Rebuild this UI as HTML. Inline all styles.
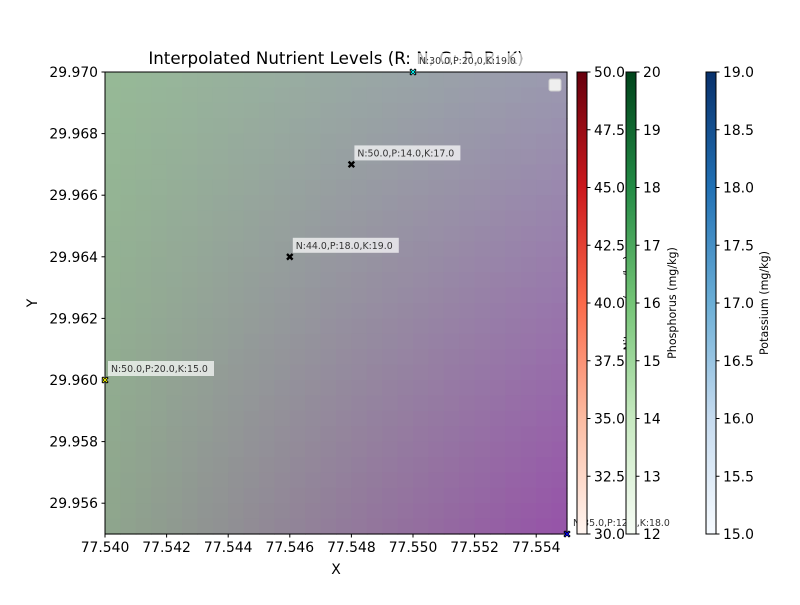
<!DOCTYPE html>
<html><head><meta charset="utf-8"><style>
body{margin:0;background:#fff}
svg text{font-family:"DejaVu Sans","Liberation Sans",sans-serif}
</style></head><body>
<svg id="chart" width="800" height="600" viewBox="0 0 800 600" xmlns="http://www.w3.org/2000/svg">
<defs>
<linearGradient id="gReds" x1="0" y1="1" x2="0" y2="0"><stop offset="0" stop-color="#fff5f0"/><stop offset="0.25" stop-color="#fcbba1"/><stop offset="0.5" stop-color="#fb6a4a"/><stop offset="0.75" stop-color="#cb181d"/><stop offset="1" stop-color="#67000d"/></linearGradient>
<linearGradient id="gGreens" x1="0" y1="1" x2="0" y2="0"><stop offset="0" stop-color="#f7fcf5"/><stop offset="0.25" stop-color="#c7e9c0"/><stop offset="0.5" stop-color="#74c476"/><stop offset="0.75" stop-color="#238b45"/><stop offset="1" stop-color="#00441b"/></linearGradient>
<linearGradient id="gBlues" x1="0" y1="1" x2="0" y2="0"><stop offset="0" stop-color="#f7fbff"/><stop offset="0.25" stop-color="#c6dbef"/><stop offset="0.5" stop-color="#6baed6"/><stop offset="0.75" stop-color="#2171b5"/><stop offset="1" stop-color="#08306b"/></linearGradient>
</defs>
<g id="bg"></g>
<g id="axes"></g>
<text x="336" y="64" font-size="16.7" text-anchor="middle">Interpolated Nutrient Levels (R: N, G: P, B: K)</text>
<text x="336" y="574" font-size="13.9" text-anchor="middle">X</text>
<text x="37" y="303" font-size="13.9" text-anchor="middle" transform="rotate(-90 37 303)">Y</text>
<rect x="549" y="79" width="12" height="12" rx="2" fill="#eee" stroke="#ccc"/>
</svg>
<script>
const xs=[77.540,77.546,77.548,77.550,77.555];
const ys=[29.960,29.964,29.967,29.970,29.955];
const Nv=[50,44,50,30,35];
const Pv=[20,18,14,20,12];
const Kv=[15,19,17,19,18];
const markerColors=['#ffff00','#000000','#000000','#00ffff','#0000ff'];
const xTicks=[77.540,77.542,77.544,77.546,77.548,77.550,77.552,77.554];
const yTicks=[29.956,29.958,29.960,29.962,29.964,29.966,29.968,29.970];
const nTicks=[30,32.5,35,37.5,40,42.5,45,47.5,50];
const pTicks=[12,13,14,15,16,17,18,19,20];
const kTicks=[15,15.5,16,16.5,17,17.5,18,18.5,19];
const NS='http://www.w3.org/2000/svg';
const L=105,R=567,T=72,B=534;
const X=v=>L+(v-77.540)/0.015*(R-L);
const Y=v=>B-(v-29.955)/0.015*(B-T);
function mk(tag,at,par){const e=document.createElementNS(NS,tag);for(const k in at)e.setAttribute(k,at[k]);par.appendChild(e);return e;}
const svg=document.getElementById('chart');
const bg=document.getElementById('bg');
const TL=[150,186,150],TR=[155,153,176],BL=[142,166,140],BR=[150,82,168];
const n=30,cw=(R-L)/n,ch=(B-T)/n;
for(let i=0;i<n;i++)for(let j=0;j<n;j++){
 const u=(i+.5)/n,v=(j+.5)/n;const c=[0,1,2].map(k=>Math.round(TL[k]*(1-u)*(1-v)+TR[k]*u*(1-v)+BL[k]*(1-u)*v+BR[k]*u*v));
 mk('rect',{x:L+i*cw,y:T+j*ch,width:cw+0.6,height:ch+0.6,fill:`rgb(${c})`},bg);
}
const axes=document.getElementById('axes');
const frame=mk('rect',{x:L,y:T,width:R-L,height:B-T,fill:'none',stroke:'#000','stroke-width':1},axes);


xTicks.forEach(t=>{const x=X(t);mk('line',{x1:x,x2:x,y1:B,y2:B+3.5,stroke:'#000'},axes);
 const tx=mk('text',{x:x,y:B+18,'font-size':13.9,'text-anchor':'middle'},axes);tx.textContent=t.toFixed(3);
 
 });
yTicks.forEach(t=>{const y=Y(t);mk('line',{x1:L-3.5,x2:L,y1:y,y2:y,stroke:'#000'},axes);
 const tx=mk('text',{x:L-7,y:y+5,'font-size':13.9,'text-anchor':'end'},axes);tx.textContent=t.toFixed(3);
 
 });
xs.forEach((xv,i)=>{const px=X(xv),py=Y(ys[i]);
 const g=mk('g',{},svg);
 
 
 mk('path',{d:`M${px-2.8} ${py-2.8}L${px+2.8} ${py+2.8}M${px-2.8} ${py+2.8}L${px+2.8} ${py-2.8}`,stroke:'#000','stroke-width':2.4},g);
 mk('path',{d:`M${px-2} ${py-2}L${px+2} ${py+2}M${px-2} ${py+2}L${px+2} ${py-2}`,stroke:markerColors[i],'stroke-width':0.9},g);
 const lab=`N:${Nv[i].toFixed(1)},P:${Pv[i].toFixed(1)},K:${Kv[i].toFixed(1)}`;
 const a=mk('g',{},svg);
 
 
 mk('rect',{x:px+3,y:py-19,width:106,height:15,fill:'#fff','fill-opacity':0.7},a);
 const t=mk('text',{x:px+6,y:py-8,'font-size':9.4,fill:'#333'},a);t.textContent=lab;
});
function cbar(x0,grad,ticks,lo,hi,dec,label,lx,name){
 const g=mk('g',{},svg);
 
 
 if(label){const lt=mk('text',{x:lx,y:303,'font-size':11.1,'text-anchor':'middle',transform:`rotate(-90 ${lx} 303)`},g);lt.textContent=label;}
 mk('rect',{x:x0,y:T,width:10,height:B-T,fill:`url(#${grad})`,stroke:'#000','stroke-width':1},g);
 ticks.forEach(t=>{const y=B-(t-lo)/(hi-lo)*(B-T);mk('line',{x1:x0+10,x2:x0+13.5,y1:y,y2:y,stroke:'#000'},g);
  const tx=mk('text',{x:x0+17,y:y+5,'font-size':13.9},g);tx.textContent=t.toFixed(dec);});
}
cbar(577,'gReds',nTicks,30,50,1,'Nitrogen (mg/kg)',632,'nitrogen-colorbar');
cbar(626,'gGreens',pTicks,12,20,0,'Phosphorus (mg/kg)',676,'phosphorus-colorbar');
cbar(706,'gBlues',kTicks,15,19,1,'Potassium (mg/kg)',768,'potassium-colorbar');
</script>
</body></html>
